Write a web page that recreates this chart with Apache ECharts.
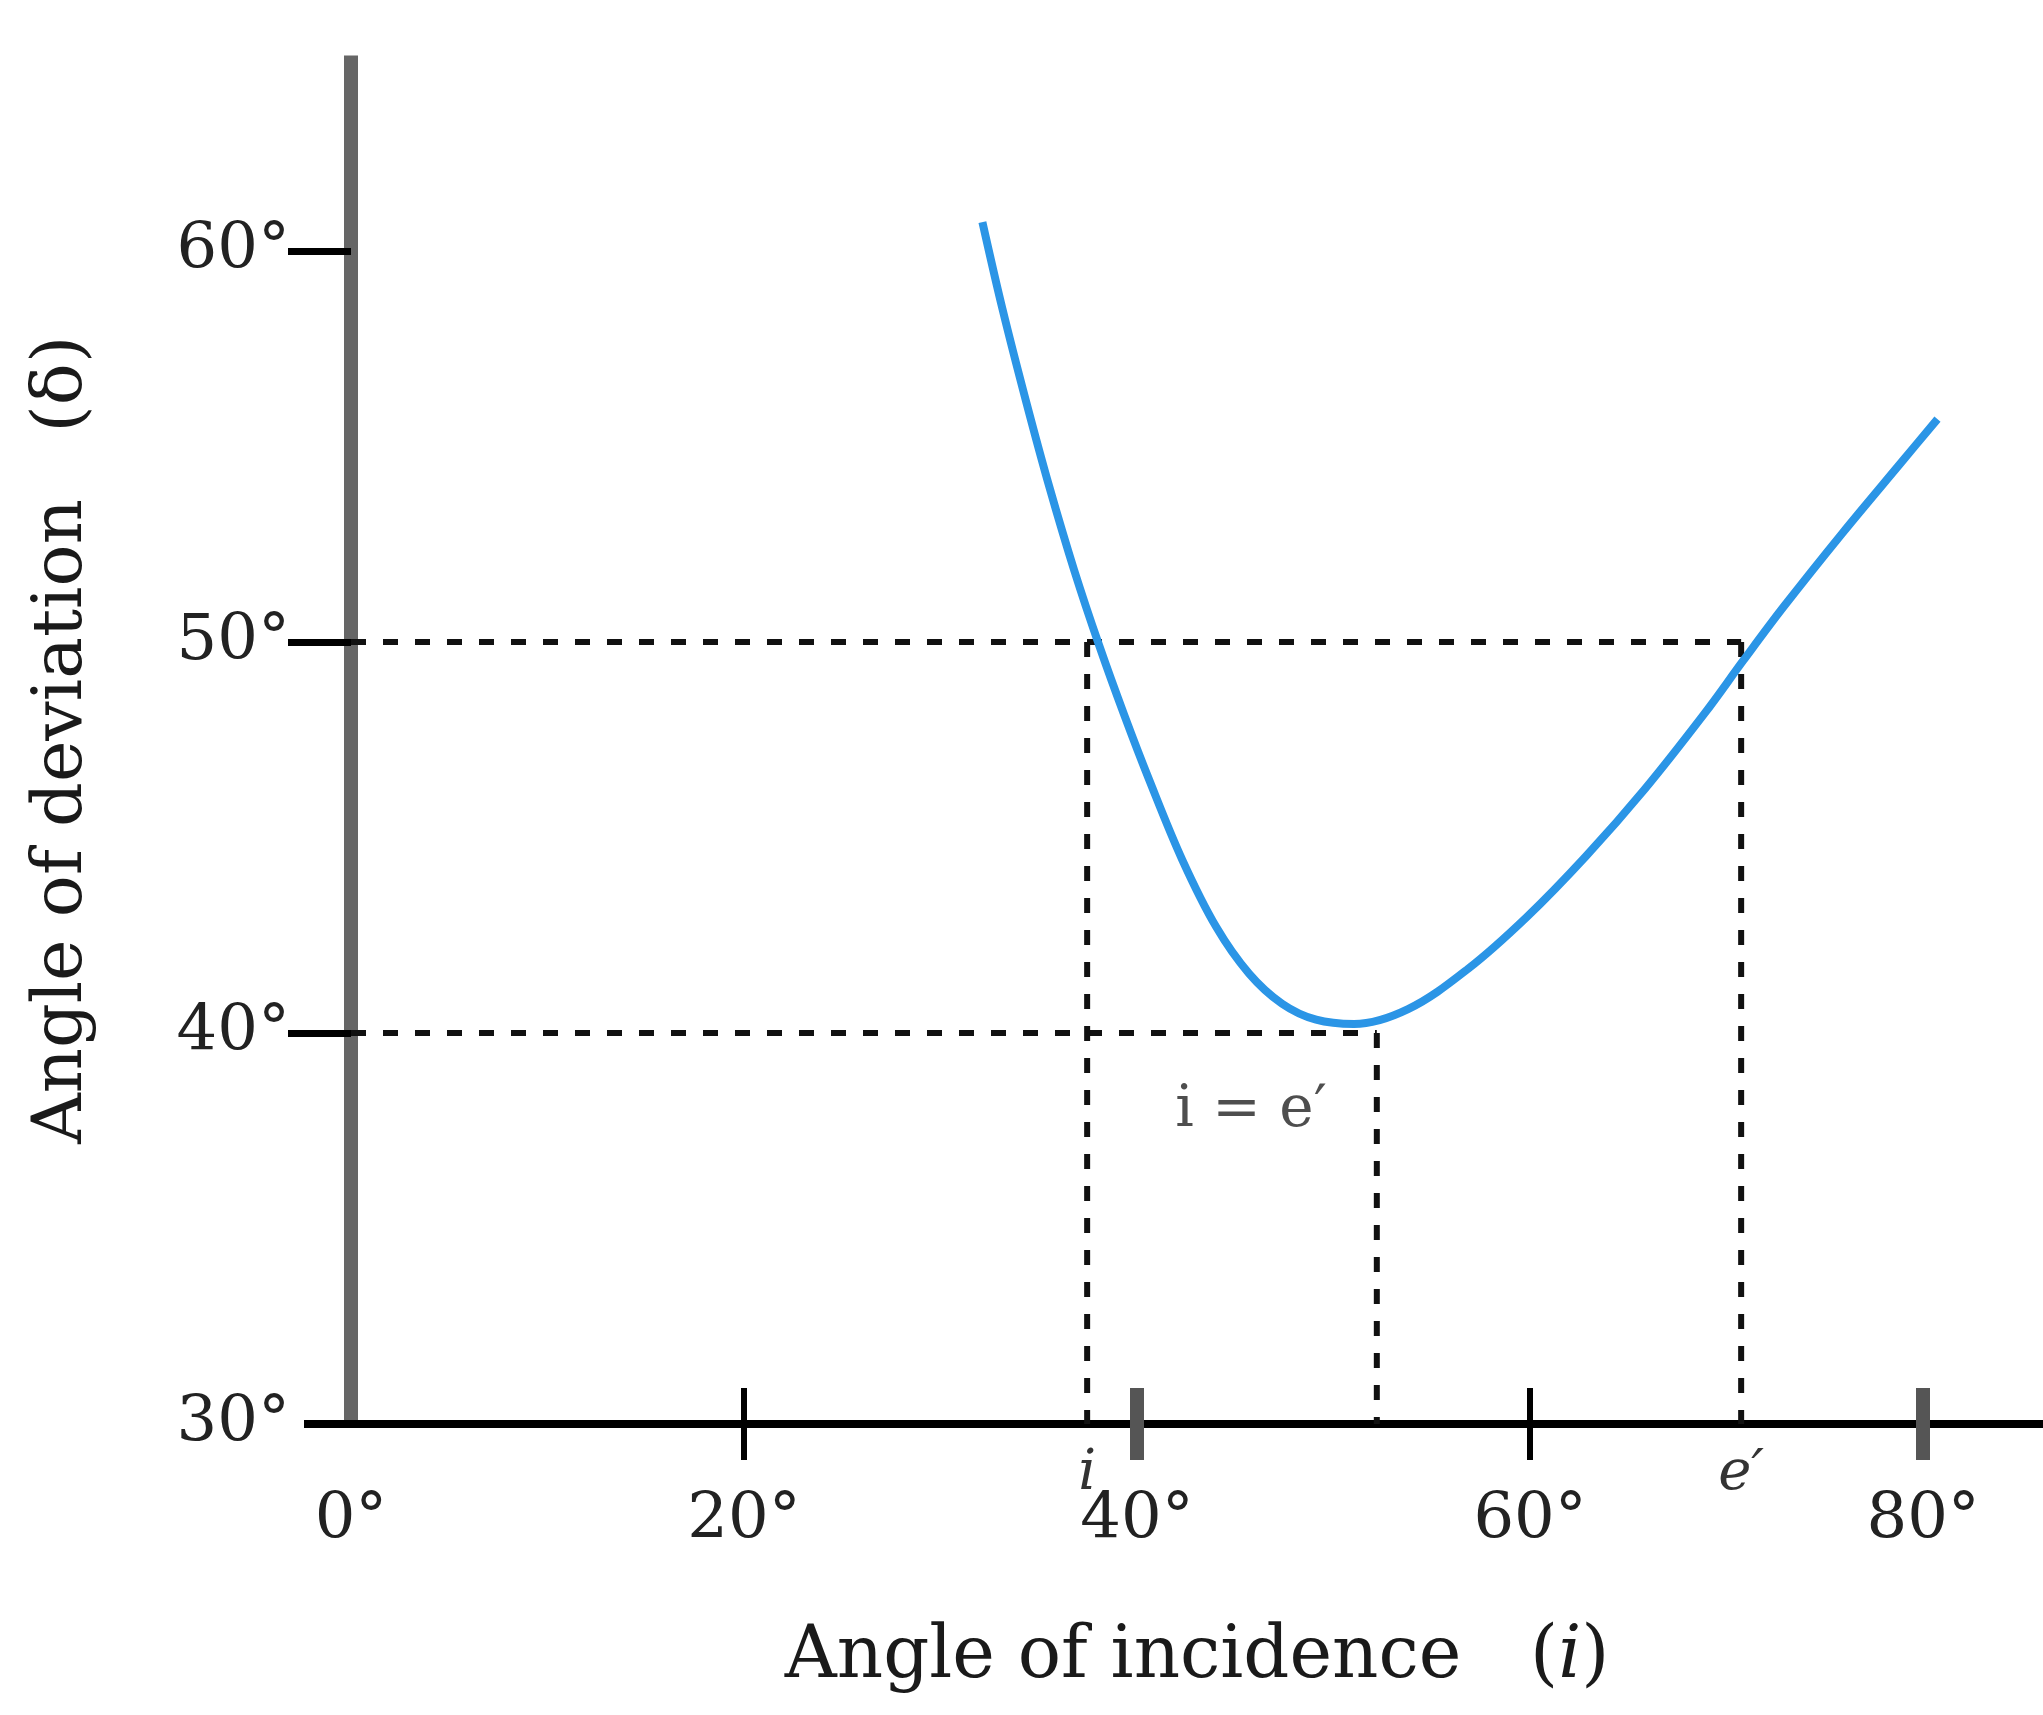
<!DOCTYPE html>
<html><head><meta charset="utf-8">
<script src="https://cdn.jsdelivr.net/npm/echarts@6/dist/echarts.min.js"></script>
<style>html,body{margin:0;padding:0;background:#fff}#c{width:2043px;height:1715px}</style>
</head><body><div id="c"></div>
<script>
// ---- data ----
const incidence = [32.13, 33.15, 34.37, 35.54, 36.81, 38.08, 39.35, 40.62, 42.30, 44.03, 45.70, 47.38, 49.11, 51.04, 53.79, 56.84, 59.84, 62.84, 65.84, 68.89, 70.87, 72.90, 75.90, 78.90, 80.73];
const deviation = [60.74, 58.52, 56.12, 53.96, 51.82, 49.90, 48.13, 46.47, 44.43, 42.71, 41.52, 40.75, 40.34, 40.23, 40.61, 41.64, 42.97, 44.52, 46.24, 48.18, 49.54, 50.90, 52.79, 54.60, 55.70];
const xTickLabels = [0, 20, 40, 60, 80];
const yTickLabels = [30, 40, 50, 60];
const xThinTicks = [20, 60];
const xThickTicks = [40, 80];
const yTicks = [40, 50, 60];
const iAngle = 37.46, minDevAngle = 52.2, eAngle = 70.74;
const devEqual = 50, devMin = 40;
const markerAngles = [iAngle, eAngle];
const markerNames = ['i', 'e′'];
const noteText = 'i = e′';
const notePoint = [45.8, 38.0];

const FONT = 'DejaVu Serif';
const box = {left: 351, right: 0, top: 55.5, bottom: 291};
const XMIN = 0, XMAX = 86.1, YMIN = 30, YMAX = 65;

function grid() { return Object.assign({containLabel: false}, box); }
function hiddenX(gi, extra) {
  return Object.assign({type: 'value', gridIndex: gi, min: XMIN, max: XMAX, position: 'bottom',
    axisLine: {show: false, onZero: false}, axisLabel: {show: false}, axisTick: {show: false}, splitLine: {show: false}}, extra || {});
}
function hiddenY(gi, extra) {
  return Object.assign({type: 'value', gridIndex: gi, min: YMIN, max: YMAX, position: 'left',
    axisLine: {show: false, onZero: false}, axisLabel: {show: false}, axisTick: {show: false}, splitLine: {show: false}}, extra || {});
}

const guides = [
  [[XMIN, devEqual], [eAngle, devEqual]],
  [[XMIN, devMin], [minDevAngle, devMin]],
  [[iAngle, devEqual], [iAngle, YMIN]],
  [[minDevAngle, devMin], [minDevAngle, YMIN]],
  [[eAngle, devEqual], [eAngle, YMIN]]
];

const series = guides.map(g => ({
  type: 'line', xAxisIndex: 0, yAxisIndex: 0, data: g, symbol: 'none', z: 1, silent: true,
  lineStyle: {color: '#111', width: 6, type: [15, 17], cap: 'butt'}
}));
series.push({
  type: 'line', xAxisIndex: 0, yAxisIndex: 0, z: 3,
  data: incidence.map((x, i) => [x, deviation[i]]),
  smooth: 0.35, symbol: 'none',
  lineStyle: {color: '#2b95e6', width: 8}
});
series.push({
  type: 'scatter', xAxisIndex: 0, yAxisIndex: 0, data: [notePoint], symbolSize: 1,
  itemStyle: {color: 'rgba(0,0,0,0)'},
  label: {show: true, position: 'inside', formatter: noteText, fontFamily: FONT, fontSize: 58, color: '#222'}
});

const option = {
  backgroundColor: '#fff',
  animation: false,
  grid: [grid(), grid(), grid(), grid()],
  xAxis: [
    {type: 'value', gridIndex: 0, min: XMIN, max: XMAX, position: 'bottom',
      axisLine: {show: true, onZero: false, lineStyle: {color: '#000', width: 8, cap: 'butt'}},
      axisTick: {show: false},
      splitLine: {show: false},
      axisLabel: {show: true, customValues: xTickLabels, formatter: v => v + '°', margin: 65,
        fontFamily: FONT, fontSize: 64, color: '#222'},
      name: 'Angle of incidence   ({it|i})', nameLocation: 'middle', nameGap: 198,
      nameTextStyle: {fontFamily: FONT, fontSize: 72, color: '#1a1a1a',
        rich: {it: {fontFamily: FONT, fontSize: 72, fontStyle: 'italic', color: '#1a1a1a'}}}
    },
    hiddenX(1, {offset: -36, axisTick: {show: true, customValues: xThinTicks, length: 72, lineStyle: {color: '#000', width: 6}}}),
    hiddenX(2, {offset: -36, axisTick: {show: true, customValues: xThickTicks, length: 72, lineStyle: {color: '#555', width: 14}}}),
    hiddenX(3, {axisLabel: {show: true, customValues: markerAngles, margin: 22,
      formatter: v => markerNames[markerAngles.indexOf(v)],
      fontFamily: FONT, fontSize: 56, fontStyle: 'italic', color: '#333'}})
  ],
  yAxis: [
    {type: 'value', gridIndex: 0, min: YMIN, max: YMAX, position: 'left',
      axisLine: {show: true, onZero: false, lineStyle: {color: '#666', width: 14, cap: 'butt'}},
      axisTick: {show: true, customValues: yTicks, length: 63, lineStyle: {color: '#000', width: 7}},
      splitLine: {show: false},
      axisLabel: {show: true, customValues: yTickLabels, formatter: v => v + '°', margin: 61,
        fontFamily: FONT, fontSize: 64, color: '#222'},
      name: 'Angle of deviation   (δ)', nameLocation: 'middle', nameGap: 253,
      nameTextStyle: {fontFamily: FONT, fontSize: 70, color: '#1a1a1a'}
    },
    hiddenY(1, {axisTick: {show: true, customValues: [YMIN], length: 47, lineStyle: {color: '#000', width: 8}}}),
    hiddenY(2),
    hiddenY(3)
  ],
  series: series
};

const chart = echarts.init(document.getElementById('c'), null, {renderer: 'canvas'});
chart.setOption(option);
</script>
</body></html>
